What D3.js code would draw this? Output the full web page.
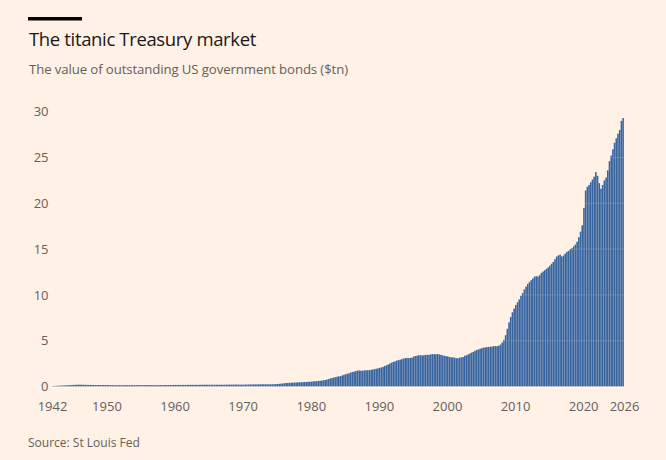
<!DOCTYPE html>
<html>
<head>
<meta charset="utf-8">
<script src="https://cdn.jsdelivr.net/npm/d3@7"></script>
<style>
  html, body { margin: 0; padding: 0; background: #fff1e5; }
  svg { display: block; font-family: "Open Sans", sans-serif; }
</style>
</head>
<body>
<svg id="chart"></svg>
<script>
// Abmessungen
const width = 666;
const height = 460;

// Daten: Marktwert der US-Staatsanleihen ($tn), quartalsweise, je Jahr 4 Werte
const years = d3.range(1942, 2026);
const quarterly = [
  [0.05, 0.06, 0.07, 0.08],   // 1942
  [0.09, 0.10, 0.11, 0.12],
  [0.13, 0.14, 0.15, 0.16],
  [0.17, 0.18, 0.19, 0.20],
  [0.20, 0.19, 0.19, 0.18],
  [0.18, 0.17, 0.17, 0.17],
  [0.16, 0.16, 0.16, 0.16],
  [0.16, 0.16, 0.16, 0.16],
  [0.16, 0.15, 0.15, 0.15],   // 1950
  [0.14, 0.14, 0.14, 0.14],
  [0.14, 0.14, 0.15, 0.15],
  [0.15, 0.15, 0.15, 0.15],
  [0.15, 0.15, 0.15, 0.15],
  [0.15, 0.15, 0.15, 0.15],
  [0.15, 0.15, 0.15, 0.15],
  [0.15, 0.15, 0.15, 0.15],
  [0.15, 0.15, 0.16, 0.16],
  [0.16, 0.16, 0.16, 0.17],
  [0.17, 0.17, 0.17, 0.17],   // 1960
  [0.17, 0.17, 0.17, 0.18],
  [0.18, 0.18, 0.18, 0.18],
  [0.18, 0.18, 0.18, 0.19],
  [0.19, 0.19, 0.19, 0.19],
  [0.19, 0.19, 0.19, 0.19],
  [0.19, 0.19, 0.19, 0.19],
  [0.19, 0.19, 0.20, 0.20],
  [0.20, 0.20, 0.21, 0.21],
  [0.21, 0.20, 0.20, 0.20],
  [0.20, 0.21, 0.21, 0.22],   // 1970
  [0.22, 0.22, 0.23, 0.23],
  [0.23, 0.23, 0.24, 0.24],
  [0.24, 0.24, 0.24, 0.24],
  [0.24, 0.24, 0.25, 0.26],
  [0.27, 0.29, 0.31, 0.33],
  [0.35, 0.37, 0.38, 0.40],
  [0.41, 0.42, 0.43, 0.44],
  [0.45, 0.46, 0.47, 0.48],
  [0.49, 0.50, 0.51, 0.52],
  [0.53, 0.56, 0.57, 0.59],   // 1980
  [0.61, 0.63, 0.64, 0.68],
  [0.71, 0.75, 0.81, 0.88],
  [0.93, 0.98, 1.02, 1.07],
  [1.10, 1.14, 1.20, 1.28],
  [1.33, 1.40, 1.44, 1.52],
  [1.58, 1.63, 1.68, 1.74],
  [1.75, 1.73, 1.72, 1.76],
  [1.78, 1.78, 1.79, 1.82],
  [1.86, 1.90, 1.94, 1.99],
  [2.03, 2.08, 2.14, 2.24],   // 1990
  [2.32, 2.40, 2.50, 2.61],
  [2.68, 2.74, 2.82, 2.88],
  [2.92, 2.98, 3.05, 3.10],
  [3.12, 3.10, 3.12, 3.15],
  [3.26, 3.33, 3.36, 3.42],
  [3.42, 3.40, 3.42, 3.46],
  [3.45, 3.46, 3.50, 3.53],
  [3.53, 3.52, 3.55, 3.50],
  [3.46, 3.40, 3.36, 3.32],
  [3.28, 3.22, 3.19, 3.18],   // 2000
  [3.15, 3.10, 3.08, 3.14],
  [3.18, 3.22, 3.35, 3.42],
  [3.50, 3.60, 3.70, 3.78],
  [3.90, 3.98, 4.05, 4.12],
  [4.18, 4.24, 4.26, 4.30],
  [4.32, 4.34, 4.36, 4.40],
  [4.42, 4.40, 4.45, 4.58],
  [4.80, 5.10, 5.60, 6.30],
  [7.00, 7.60, 8.10, 8.50],
  [8.90, 9.20, 9.50, 9.90],   // 2010
  [10.20, 10.60, 10.90, 11.20],
  [11.40, 11.60, 11.80, 12.00],
  [12.05, 12.00, 12.15, 12.40],
  [12.55, 12.70, 12.85, 13.00],
  [13.20, 13.40, 13.60, 13.90],
  [14.20, 14.30, 14.40, 14.20],
  [14.30, 14.50, 14.70, 14.80],
  [15.00, 15.10, 15.30, 15.50],
  [15.80, 16.30, 16.90, 17.60],
  [19.50, 21.40, 21.80, 22.00],   // 2020
  [22.30, 22.60, 22.90, 23.40],
  [23.00, 22.20, 21.60, 22.00],
  [22.50, 22.80, 23.60, 24.60],
  [25.20, 25.90, 26.60, 27.10],
  [27.60, 28.00, 29.00, 29.30]    // 2025
];
const yTicks = [0, 5, 10, 15, 20, 25, 30];
const xTicks = [1942, 1950, 1960, 1970, 1980, 1990, 2000, 2010, 2020, 2026];

// Tabelle der Balken
const bars = [];
years.forEach((yr, i) => {
  quarterly[i].forEach((v, q) => bars.push({ t: yr + q / 4, value: v }));
});

// Skalen
const xScale = d3.scaleLinear().domain([1942, 2026]).range([52, 624]);
const yScale = d3.scaleLinear().domain([0, 30]).range([386.5, 111.7]);
const step = xScale(1942.25) - xScale(1942);

const svg = d3.select("#chart")
  .attr("width", width)
  .attr("height", height);

// Kopfzeile
svg.append("rect")
  .attr("x", 28).attr("y", 17)
  .attr("width", 54).attr("height", 3.5)
  .attr("fill", "#000");

svg.append("text")
  .attr("x", 29).attr("y", 46)
  .attr("font-size", 18.5)
  .attr("letter-spacing", -0.35)
  .attr("fill", "#1a1817")
  .text("The titanic Treasury market");

svg.append("text")
  .attr("x", 29).attr("y", 74)
  .attr("font-size", 13.2)
  .attr("letter-spacing", -0.1)
  .attr("fill", "#66605c")
  .text("The value of outstanding US government bonds ($tn)");

// Balken
svg.append("g")
  .selectAll("rect")
  .data(bars)
  .enter().append("rect")
  .attr("x", d => xScale(d.t))
  .attr("y", d => yScale(d.value))
  .attr("width", step - 0.1)
  .attr("height", d => yScale(0) - yScale(d.value))
  .attr("fill", "#3865a0");

// Gitterlinien (nur auf den Balken sichtbar)
svg.append("g")
  .selectAll("line")
  .data(yTicks.slice(1))
  .enter().append("line")
  .attr("x1", 52).attr("x2", 626)
  .attr("y1", d => yScale(d)).attr("y2", d => yScale(d))
  .attr("stroke", "#fff1e5")
  .attr("stroke-opacity", 0.15)
  .attr("stroke-width", 1);

// Grundlinie
svg.append("line")
  .attr("x1", 52).attr("x2", 626)
  .attr("y1", yScale(0) + 0.8).attr("y2", yScale(0) + 0.8)
  .attr("stroke", "#fff8f2")
  .attr("stroke-width", 1.2);

// y-Achse
const yAxis = d3.axisLeft(yScale).tickValues(yTicks).tickSize(0).tickPadding(0);
svg.append("g")
  .attr("transform", "translate(48.5,0)")
  .call(yAxis)
  .call(g => g.select(".domain").remove())
  .call(g => g.selectAll("text")
    .attr("font-family", "Open Sans, sans-serif")
    .attr("font-size", 13)
    .attr("fill", "#66605c"));

// x-Achse
const xAxis = d3.axisBottom(xScale).tickValues(xTicks).tickFormat(d3.format("d")).tickSize(0).tickPadding(0);
svg.append("g")
  .attr("transform", "translate(0,402)")
  .call(xAxis)
  .call(g => g.select(".domain").remove())
  .call(g => g.selectAll("text")
    .attr("font-family", "Open Sans, sans-serif")
    .attr("font-size", 13)
    .attr("fill", "#66605c"));

// Quelle
svg.append("text")
  .attr("x", 28).attr("y", 447)
  .attr("font-size", 12)
  .attr("fill", "#66605c")
  .text("Source: St Louis Fed");
</script>
</body>
</html>
